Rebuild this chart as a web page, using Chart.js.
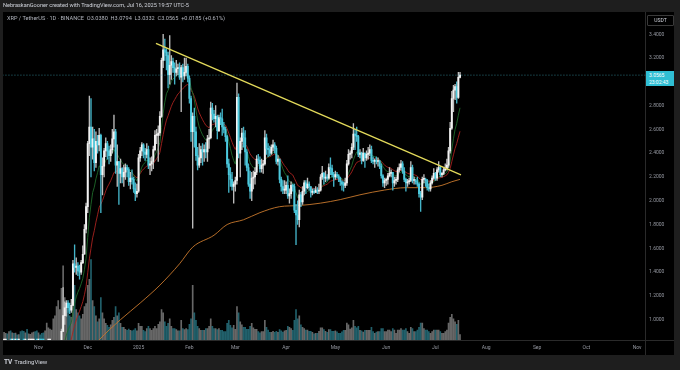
<!DOCTYPE html>
<html>
<head>
<meta charset="utf-8">
<script src="https://cdn.jsdelivr.net/npm/chart.js@4.4.1/dist/chart.umd.min.js"></script>
<style>
  html, body { margin:0; padding:0; width:680px; height:370px; overflow:hidden; background:#1e1e1e; font-family: Roboto, "DejaVu Sans", sans-serif; }
  #panel { position:absolute; left:3px; top:12px; width:671px; height:343px; background:#000; }
  .sep { position:absolute; background:#2a2a2a; }
  #cv { position:absolute; left:0; top:0; }
  .txt { position:absolute; white-space:nowrap; line-height:1; }
  #head { left:3px; top:3px; font-size:5.6px; color:#d1d4dc; }
  #legend { left:7px; top:15.5px; font-size:5.6px; color:#b2b5be; }
  #unit { left:647px; top:15px; width:25px; height:9px; border:1px solid #3a3a3a; border-radius:1px; font-size:5px; color:#d1d4dc; text-align:center; line-height:9px; }
  #last { left:646px; top:71px; width:27.5px; height:14.5px; background:#30bfd4; color:#fff; font-size:5px; line-height:6.5px; padding-left:3px; box-sizing:border-box; padding-top:1px; }
  #foot { left:4px; top:359px; font-size:6px; color:#d1d4dc; }
  #foot b { font-size:6.5px; margin-right:2px; }
</style>
</head>
<body>
<div id="panel"></div>
<div class="sep" style="left:645px;top:12px;width:1px;height:343px;"></div>
<div class="sep" style="left:3px;top:340px;width:671px;height:1px;"></div>
<canvas id="cv" width="680" height="370"></canvas>
<div class="txt" id="head">NebraskanGooner created with TradingView.com, Jul 16, 2025 19:57 UTC-5</div>
<div class="txt" id="legend">XRP / TetherUS · 1D · BINANCE &nbsp;O3.0380 &nbsp;H3.0794 &nbsp;L3.0332 &nbsp;C3.0565 &nbsp;+0.0185 (+0.61%)</div>
<div class="txt" id="unit">USDT</div>
<div class="txt" id="last">3.0565<br>23:02:43</div>
<div class="txt" id="foot"><b>TV</b>TradingView</div>
<script>
// daily candles, day 0 = 2024-10-11 ... day 278 = 2025-07-16
const firstOpen = 0.528;
const closes = [
  .535,.537,.528,.544,.542,.548,.544,.550,.548,.548,.538,.525,.519,.525,.510,.518,.520,.523,.527,.517,.509,
  .512,.509,.502,.500,.516,.544,.551,.559,.575,.617,.643,.666,.721,.742,.902,1.034,1.10,1.14,1.10,1.08,1.12,1.47,1.44,1.45,1.41,1.40,1.48,1.55,1.76,1.95,
  2.48,2.62,2.45,2.52,2.32,2.50,2.47,2.55,2.22,2.29,2.42,2.48,2.42,2.38,2.43,2.52,2.58,2.30,2.33,2.23,2.27,2.20,2.24,2.28,2.26,2.16,2.19,2.18,2.10,2.06,2.08,
  2.36,2.42,2.47,2.41,2.39,2.43,2.30,2.31,2.33,2.43,2.55,2.55,2.57,2.71,3.18,3.27,3.25,3.22,3.06,3.14,3.17,3.12,3.08,3.11,3.12,3.04,3.12,3.05,3.08,3.13,3.03,
  2.86,2.58,2.71,2.58,2.38,2.30,2.36,2.43,2.41,2.43,2.41,2.52,2.53,2.78,2.73,2.69,2.71,2.59,2.70,2.69,2.62,2.60,2.54,2.31,2.22,2.18,2.12,2.14,
  2.17,2.87,2.40,2.50,2.57,2.53,2.41,2.28,2.14,2.08,2.19,2.20,2.24,2.35,2.34,2.27,2.30,2.31,2.53,2.44,2.43,2.40,2.45,2.47,2.44,2.33,2.35,2.18,2.12,2.09,2.09,
  2.13,2.04,2.06,2.13,2.12,1.92,1.88,1.84,2.05,1.99,2.08,2.15,2.11,2.14,2.12,2.07,2.08,2.07,2.09,2.08,2.09,2.20,2.23,2.19,2.20,2.19,2.28,2.27,2.22,2.20,
  2.22,2.21,2.19,2.16,2.14,2.13,2.15,2.31,2.39,2.40,2.45,2.56,2.55,2.54,2.39,2.40,2.34,2.40,2.36,2.39,2.40,2.43,2.34,2.33,2.34,2.33,2.33,2.29,2.21,2.15,2.17,
  2.18,2.21,2.23,2.24,2.15,2.17,2.18,2.26,2.28,2.31,2.25,2.18,2.15,2.16,2.17,2.28,2.17,2.17,2.16,2.14,2.06,2.03,2.18,2.18,2.17,2.11,2.10,2.15,2.19,2.23,
  2.19,2.26,2.28,2.22,2.23,2.26,2.27,2.30,2.42,2.61,2.86,2.93,2.96,2.87,3.038,3.0565
];
const highs = [
  .540,.542,.540,.552,.554,.556,.552,.556,.553,.556,.556,.541,.528,.530,.533,.522,.524,.527,.535,.530,.520,
  .520,.516,.511,.510,.520,.555,.557,.567,.580,.650,.660,.750,.752,.800,.920,1.27,1.15,1.16,1.16,1.14,1.17,1.50,1.63,1.52,1.48,1.46,1.50,1.62,1.80,1.98,
  2.50,2.88,2.86,2.62,2.60,2.58,2.55,2.61,2.56,2.36,2.44,2.53,2.50,2.46,2.47,2.60,2.72,2.60,2.47,2.33,2.35,2.28,2.30,2.31,2.30,2.28,2.24,2.26,2.20,2.15,2.14,
  2.39,2.45,2.49,2.48,2.44,2.48,2.46,2.36,2.37,2.46,2.59,2.60,2.63,2.75,3.20,3.40,3.36,3.28,3.25,3.39,3.22,3.20,3.16,3.18,3.15,3.16,3.14,3.15,3.20,3.20,3.15,
  3.05,2.88,2.74,2.78,2.62,2.45,2.48,2.46,2.48,2.47,2.49,2.55,2.60,2.83,2.82,2.76,2.80,2.72,2.72,2.74,2.77,2.66,2.62,2.55,2.35,2.28,2.24,2.16,
  2.20,2.99,2.90,2.53,2.61,2.62,2.59,2.43,2.31,2.25,2.24,2.25,2.28,2.38,2.39,2.37,2.35,2.34,2.59,2.56,2.48,2.46,2.47,2.51,2.49,2.46,2.38,2.35,2.20,2.17,2.17,
  2.16,2.21,2.10,2.16,2.14,2.14,1.97,2.00,2.09,2.07,2.12,2.17,2.17,2.19,2.16,2.12,2.10,2.10,2.12,2.11,2.14,2.22,2.29,2.24,2.25,2.22,2.31,2.36,2.30,2.24,
  2.25,2.24,2.22,2.20,2.17,2.16,2.19,2.34,2.43,2.42,2.48,2.65,2.60,2.62,2.55,2.43,2.41,2.44,2.40,2.42,2.45,2.47,2.46,2.37,2.35,2.37,2.36,2.34,2.31,2.22,2.19,
  2.19,2.23,2.28,2.26,2.24,2.20,2.20,2.28,2.31,2.34,2.33,2.28,2.19,2.18,2.19,2.33,2.30,2.20,2.18,2.20,2.15,2.08,2.20,2.22,2.19,2.18,2.14,2.17,2.21,2.27,
  2.24,2.28,2.33,2.29,2.24,2.28,2.31,2.35,2.45,2.66,2.92,2.97,2.98,3.00,3.08,3.0794
];
const lows = [
  .525,.530,.522,.525,.530,.538,.536,.540,.543,.540,.530,.520,.510,.514,.500,.505,.512,.510,.517,.513,.503,
  .500,.503,.493,.495,.498,.513,.538,.548,.555,.570,.600,.620,.640,.700,.730,.900,.960,1.03,1.06,1.05,1.06,1.12,1.40,1.38,1.37,1.34,1.38,1.47,1.55,1.73,
  1.90,2.38,2.20,2.35,2.25,2.28,2.40,2.42,1.90,2.05,2.20,2.37,2.35,2.31,2.33,2.40,2.45,2.23,2.12,1.97,2.15,2.15,2.12,2.18,2.20,2.13,2.10,2.14,2.07,2.00,2.03,
  2.07,2.33,2.38,2.36,2.34,2.36,2.27,2.22,2.25,2.27,2.42,2.48,2.33,2.55,2.70,3.12,3.18,3.10,2.95,2.98,3.02,3.08,2.98,3.05,3.06,3.02,2.75,3.00,3.02,3.05,3.00,
  2.82,2.50,1.77,2.45,2.34,2.26,2.28,2.32,2.30,2.33,2.36,2.33,2.44,2.52,2.68,2.66,2.62,2.52,2.58,2.64,2.55,2.57,2.50,2.28,2.07,2.12,2.09,1.98,
  2.08,2.14,2.36,2.20,2.43,2.45,2.30,2.25,2.12,2.02,2.00,2.10,2.14,2.22,2.31,2.24,2.24,2.23,2.30,2.39,2.37,2.38,2.39,2.42,2.40,2.31,2.30,2.15,2.08,2.06,2.06,
  2.06,2.02,1.98,2.02,2.08,1.90,1.63,1.80,1.78,1.95,1.97,2.05,2.06,2.10,2.09,2.03,2.05,2.06,2.07,2.06,2.06,2.08,2.18,2.14,2.16,2.17,2.18,2.22,2.20,2.12,
  2.18,2.19,2.16,2.13,2.09,2.08,2.11,2.13,2.30,2.35,2.36,2.43,2.43,2.50,2.37,2.36,2.31,2.33,2.28,2.34,2.35,2.38,2.32,2.31,2.28,2.31,2.29,2.27,2.19,2.12,2.11,
  2.13,2.14,2.20,2.20,2.09,2.12,2.14,2.16,2.24,2.26,2.23,2.16,2.08,2.12,2.14,2.16,2.15,2.14,2.14,2.12,2.03,1.91,2.01,2.15,2.12,2.09,2.08,2.08,2.14,2.18,
  2.17,2.17,2.24,2.20,2.20,2.22,2.25,2.26,2.28,2.40,2.60,2.75,2.85,2.82,2.86,3.0332
];
// volume, millions XRP
const volumes = [
  250,220,200,280,300,240,220,230,170,180,280,300,290,240,350,200,190,240,260,280,300,
  240,170,220,240,300,560,400,360,330,700,800,1100,1300,1000,1700,2450,1400,1100,900,800,750,1500,1800,1000,900,800,700,850,1100,1200,
  1800,2000,2650,1300,1100,800,600,700,1400,900,700,550,480,420,500,650,750,1100,800,900,550,420,420,350,320,360,320,300,330,380,300,
  550,450,450,320,280,380,450,380,320,380,450,380,520,600,1000,900,600,450,550,700,450,380,380,340,300,300,650,380,340,380,340,
  520,700,1800,900,650,450,380,320,320,320,380,380,450,700,450,380,380,340,380,320,320,280,280,550,650,480,400,480,
  350,1100,900,600,500,420,420,350,350,450,550,400,350,350,280,240,280,280,650,420,330,250,250,290,250,290,250,340,300,260,300,
  320,450,420,380,320,650,1000,700,800,500,420,380,330,330,290,290,250,200,220,220,290,400,400,340,290,250,340,340,290,290,
  300,270,220,220,270,320,320,560,500,360,400,650,450,400,450,320,300,260,320,320,320,320,420,280,220,260,280,280,380,380,280,
  280,330,330,280,380,330,220,330,330,380,330,330,380,280,220,420,380,280,280,330,420,560,560,380,330,330,280,220,280,330,
  330,330,330,280,220,220,280,330,560,750,850,700,600,520,650,180
];
// slow moving average (day, price)
const slowMaDays = [52, 58, 71, 83, 95, 107, 115, 128, 136, 146, 156, 168, 180, 193, 205, 217, 232, 245, 257, 267, 273, 278];
const slowMaValues = [0.73, 0.83, 1.00, 1.14, 1.29, 1.47, 1.61, 1.71, 1.80, 1.84, 1.90, 1.95, 1.96, 1.98, 2.01, 2.05, 2.09, 2.11, 2.11, 2.13, 2.16, 2.18];
// descending trendline
const trendDays = [92.6, 278.6];
const trendPrices = [3.324, 2.217];

const monthLabels = ['Nov', 'Dec', '2025', 'Feb', 'Mar', 'Apr', 'May', 'Jun', 'Jul', 'Aug', 'Sep', 'Oct', 'Nov'];
const monthDays = [21, 51, 82, 113, 141, 172, 202, 233, 263, 294, 325, 355, 386];
const priceTicks = [1.0, 1.2, 1.4, 1.6, 1.8, 2.0, 2.2, 2.4, 2.6, 2.8, 3.0, 3.2, 3.4];

const opens = closes.map((c, i) => i === 0 ? firstOpen : closes[i - 1]);
const isUp = closes.map((c, i) => c >= opens[i]);
const lastClose = closes[closes.length - 1];

const ema = (values, period) => {
    const k = 2 / (period + 1);
    let prev = values[0];
    return values.map((v, i) => {
        prev = i === 0 ? v : v * k + prev * (1 - k);
        return prev;
    });
};
const fastEma = ema(closes, 10);
const midEma = ema(closes, 20);

const tickFont = { size: 5, family: 'Roboto, "DejaVu Sans", sans-serif' };

const config = {
    type: 'bar',
    data: {
        datasets: [
            {
                type: 'line',
                data: trendDays.map((d, i) => ({ x: d, y: trendPrices[i] })),
                borderColor: '#e3da5a',
                borderWidth: 1.3,
                pointRadius: 0,
                order: 1
            },
            {
                type: 'line',
                data: [{ x: -1, y: lastClose }, { x: 392, y: lastClose }],
                borderColor: 'rgba(70,190,210,0.75)',
                borderWidth: 0.8,
                borderDash: [1, 2],
                pointRadius: 0,
                order: 2
            },
            {
                data: closes.map((c, i) => ({ x: i, y: [opens[i], c] })),
                backgroundColor: ctx => isUp[ctx.dataIndex] ? '#f2f2f2' : '#4cc9dd',
                barThickness: 1.3,
                minBarLength: 1,
                grouped: false,
                order: 4
            },
            {
                data: closes.map((c, i) => ({ x: i, y: [lows[i], highs[i]] })),
                backgroundColor: ctx => isUp[ctx.dataIndex] ? '#bcbcbc' : '#44b4c8',
                barThickness: 0.7,
                grouped: false,
                order: 5
            },
            {
                type: 'line',
                data: fastEma.map((v, i) => ({ x: i, y: v })),
                borderColor: '#1e6a2a',
                borderWidth: 0.9,
                pointRadius: 0,
                order: 6
            },
            {
                type: 'line',
                data: midEma.map((v, i) => ({ x: i, y: v })),
                borderColor: '#a8231f',
                borderWidth: 0.9,
                pointRadius: 0,
                order: 7
            },
            {
                type: 'line',
                data: slowMaDays.map((d, i) => ({ x: d, y: slowMaValues[i] })),
                borderColor: '#c8782c',
                borderWidth: 0.9,
                pointRadius: 0,
                cubicInterpolationMode: 'monotone',
                order: 8
            },
            {
                data: volumes.map((v, i) => ({ x: i, y: v })),
                yAxisID: 'yv',
                backgroundColor: ctx => isUp[ctx.dataIndex] ? 'rgba(205,205,205,0.5)' : 'rgba(60,175,195,0.55)',
                barThickness: 1.0,
                grouped: false,
                order: 10
            }
        ]
    },
    options: {
        responsive: false,
        animation: false,
        events: [],
        layout: { padding: { left: 3, right: 6, top: 12.5, bottom: 15 } },
        plugins: { legend: { display: false }, tooltip: { enabled: false } },
        scales: {
            x: {
                type: 'linear',
                min: -0.66,
                max: 391.1,
                offset: false,
                grid: { display: false, drawTicks: false },
                border: { display: false },
                afterFit: s => { s.height = 15; },
                afterBuildTicks: s => { s.ticks = monthDays.map(v => ({ value: v })); },
                ticks: {
                    autoSkip: false,
                    maxRotation: 0,
                    color: '#9598a1',
                    font: tickFont,
                    padding: 5,
                    callback: (v, i) => monthLabels[i]
                }
            },
            y: {
                type: 'linear',
                position: 'right',
                min: 0.8289,
                max: 3.5833,
                grid: { display: false, drawTicks: false },
                border: { display: false },
                afterFit: s => { s.width = 28.5; },
                afterBuildTicks: s => { s.ticks = priceTicks.map(v => ({ value: v })); },
                ticks: {
                    color: '#9598a1',
                    font: tickFont,
                    padding: 3.5,
                    callback: v => v.toFixed(4)
                }
            },
            yv: {
                type: 'linear',
                display: false,
                min: 0,
                max: 10800
            }
        }
    }
};

window.onload = function () {
    const ctx = document.querySelector('#cv').getContext('2d');
    const chart = new Chart(ctx, config);
};
</script>
</body>
</html>
